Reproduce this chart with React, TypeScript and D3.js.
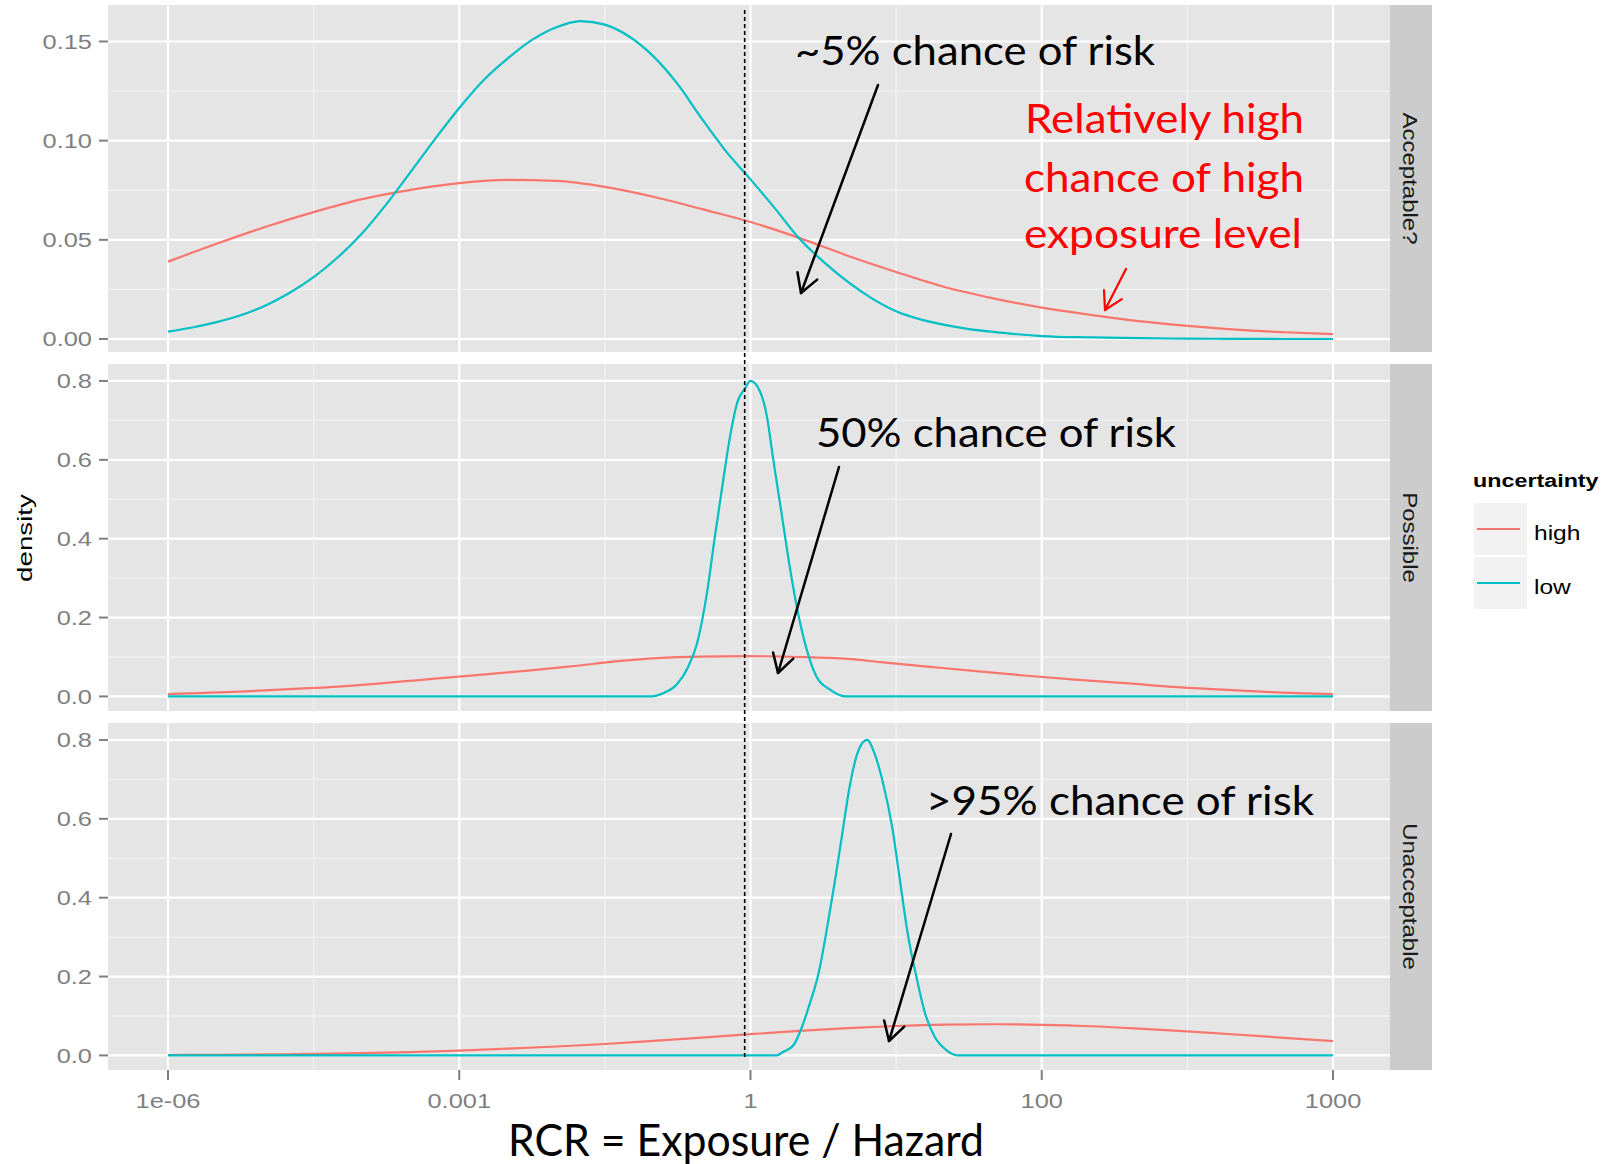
import React from 'react';
import * as d3 from 'd3';

const W = 1613;
const H = 1164;

// ---- categories / labels ----
const facets = ['Acceptable?', 'Possible', 'Unacceptable'];
const seriesNames = ['high', 'low'];
const seriesColors = ['#F8766D', '#00BFC4'];

const xTickPos = [-6, -3, 0, 3, 6];
const xTickLabels = ['1e-06', '0.001', '1', '100', '1000'];
const xMinorPos = [-4.5, -1.5, 1.5, 4.5];

const yTicksAcceptable = [0, 0.05, 0.1, 0.15];
const yTickLabelsAcceptable = ['0.00', '0.05', '0.10', '0.15'];
const yMinorAcceptable = [0.025, 0.075, 0.125];
const yTicksOther = [0, 0.2, 0.4, 0.6, 0.8];
const yTickLabelsOther = ['0.0', '0.2', '0.4', '0.6', '0.8'];
const yMinorOther = [0.1, 0.3, 0.5, 0.7];

// ---- series values (x in axis units, tick -6..6) ----
const uWide = [-6, -5.5, -5, -4.5, -4, -3.5, -3, -2.5, -2, -1.5, -1, -0.5, 0, 0.5, 1, 1.5, 2, 2.5, 3, 3.5, 4, 4.5, 5, 5.5, 6];

const acceptableHigh = [0.039, 0.048, 0.0565, 0.064, 0.0705, 0.0752, 0.0786, 0.0802, 0.0797, 0.0767, 0.0717, 0.0655, 0.059, 0.051, 0.042, 0.0338, 0.0262, 0.0205, 0.0158, 0.0122, 0.009, 0.0066, 0.0047, 0.0034, 0.0025];

const uAcceptableLow = [-6, -5.75, -5.5, -5.25, -5, -4.75, -4.5, -4.25, -4, -3.75, -3.5, -3.25, -3, -2.75, -2.5, -2.25, -2, -1.75, -1.5, -1.25, -1, -0.75, -0.5, -0.25, 0, 0.25, 0.5, 0.75, 1, 1.25, 1.5, 1.75, 2, 2.25, 2.5, 2.75, 3, 3.5, 4, 4.5, 5, 5.5, 6];
const acceptableLow = [0.0037, 0.0058, 0.0085, 0.012, 0.0168, 0.0232, 0.0312, 0.0412, 0.0533, 0.068, 0.0843, 0.1008, 0.1165, 0.1305, 0.1415, 0.1508, 0.1572, 0.1603, 0.1585, 0.1525, 0.1425, 0.1285, 0.111, 0.0945, 0.0805, 0.066, 0.0508, 0.039, 0.0289, 0.0205, 0.014, 0.0099, 0.0071, 0.005, 0.0036, 0.0024, 0.0015, 0.0008, 0.0004, 0.0002, 0.0001, 0, 0];

const uPossibleHigh = [-6, -5.26, -4.71, -4.24, -3.9, -3.31, -2.82, -2.32, -1.85, -1.34, -0.97, -0.51, 0, 0.5, 1.0, 1.34, 1.85, 2.32, 2.82, 3.31, 3.9, 4.24, 4.71, 5.26, 6];
const possibleHigh = [0.006, 0.012, 0.019, 0.025, 0.031, 0.044, 0.054, 0.065, 0.076, 0.09, 0.097, 0.101, 0.102, 0.1, 0.095, 0.087, 0.075, 0.064, 0.053, 0.043, 0.033, 0.026, 0.019, 0.012, 0.006];

const uPossibleLow = [-6, -1.02, -0.9, -0.76, -0.64, -0.55, -0.45, -0.37, -0.28, -0.21, -0.13, -0.06, 0, 0.1, 0.17, 0.23, 0.32, 0.41, 0.49, 0.58, 0.68, 0.82, 0.97, 6];
const possibleLow = [0, 0, 0.008, 0.03, 0.076, 0.135, 0.26, 0.4, 0.55, 0.66, 0.75, 0.78, 0.8, 0.772, 0.709, 0.608, 0.464, 0.32, 0.211, 0.118, 0.05, 0.017, 0, 0];

const unacceptableHigh = [0.001, 0.0015, 0.0024, 0.0037, 0.0058, 0.0085, 0.012, 0.017, 0.0226, 0.029, 0.037, 0.045, 0.054, 0.062, 0.069, 0.0746, 0.078, 0.079, 0.0776, 0.074, 0.068, 0.061, 0.053, 0.0446, 0.0363];

const uUnacceptableLow = [-6, 0.27, 0.33, 0.44, 0.53, 0.61, 0.7, 0.79, 0.87, 0.95, 1.02, 1.11, 1.2, 1.28, 1.36, 1.46, 1.54, 1.62, 1.71, 1.8, 1.9, 2.02, 2.14, 6];
const unacceptableLow = [0, 0, 0.008, 0.025, 0.072, 0.131, 0.207, 0.325, 0.443, 0.57, 0.68, 0.772, 0.8, 0.764, 0.696, 0.578, 0.443, 0.308, 0.198, 0.105, 0.046, 0.013, 0, 0];

const thresholdU = -0.06;

// ---- layout ----
const panelLeft = 108;
const panelRight = 1390;
const panelTops = [5, 364, 723];
const panelH = 347;
const stripW = 42;
const yDomains: [number, number][] = [[-0.00655, 0.1684], [-0.037, 0.843], [-0.037, 0.843]];

const x = d3.scaleLinear().domain([-6, 6]).range([168, 1333]);

const GG_FONT = "'Liberation Sans', Arial, Helvetica, sans-serif";
const NOTE_FONT = "Lato, 'Open Sans', sans-serif";

function GT(props: any) {
  const { x: tx, y: ty, size, sx = 1.27, anchor = 'start', rotate = 0, fill = '#1A1A1A', weight = 'normal', children } = props;
  return (
    <text
      transform={`translate(${tx},${ty}) rotate(${rotate}) scale(${sx},1)`}
      fontFamily={GG_FONT}
      fontSize={size}
      textAnchor={anchor}
      fill={fill}
      fontWeight={weight}
    >
      {children}
    </text>
  );
}

function Arrow(props: any) {
  const { x1, y1, x2, y2, color, width = 2.5, head = 21, ang = 30 } = props;
  const a = Math.atan2(y1 - y2, x1 - x2);
  const r = (ang * Math.PI) / 180;
  const w1 = [x2 + head * Math.cos(a + r), y2 + head * Math.sin(a + r)];
  const w2 = [x2 + head * Math.cos(a - r), y2 + head * Math.sin(a - r)];
  return (
    <g stroke={color} strokeWidth={width} fill="none" strokeLinecap="round" strokeLinejoin="round">
      <line x1={x1} y1={y1} x2={x2} y2={y2} />
      <polyline points={`${w1[0]},${w1[1]} ${x2},${y2} ${w2[0]},${w2[1]}`} />
    </g>
  );
}

type Series = { u: number[]; v: number[] };

const panelData: Series[][] = [
  [{ u: uWide, v: acceptableHigh }, { u: uAcceptableLow, v: acceptableLow }],
  [{ u: uPossibleHigh, v: possibleHigh }, { u: uPossibleLow, v: possibleLow }],
  [{ u: uWide, v: unacceptableHigh }, { u: uUnacceptableLow, v: unacceptableLow }],
];

export default function App() {
  return (
    <svg
      width={W}
      height={H}
      viewBox={`0 0 ${W} ${H}`}
      style={{ position: 'absolute', left: 0, top: 0, background: '#fff' }}
    >
      <rect x={0} y={0} width={W} height={H} fill="#fff" />
      {facets.map((f, i) => {
        const top = panelTops[i];
        const y = d3.scaleLinear().domain(yDomains[i]).range([top + panelH, top]);
        const majors = i === 0 ? yTicksAcceptable : yTicksOther;
        const labels = i === 0 ? yTickLabelsAcceptable : yTickLabelsOther;
        const minors = i === 0 ? yMinorAcceptable : yMinorOther;
        return (
          <g key={f}>
            <rect x={panelLeft} y={top} width={panelRight - panelLeft} height={panelH} fill="#E5E5E5" />
            {minors.map((m) => (
              <line key={'ym' + m} x1={panelLeft} x2={panelRight} y1={y(m)} y2={y(m)} stroke="#F2F2F2" strokeWidth={1.3} />
            ))}
            {xMinorPos.map((m) => (
              <line key={'xm' + m} x1={x(m)} x2={x(m)} y1={top} y2={top + panelH} stroke="#F2F2F2" strokeWidth={1.3} />
            ))}
            {majors.map((m) => (
              <line key={'yM' + m} x1={panelLeft} x2={panelRight} y1={y(m)} y2={y(m)} stroke="#FFFFFF" strokeWidth={2.2} />
            ))}
            {xTickPos.map((m) => (
              <line key={'xM' + m} x1={x(m)} x2={x(m)} y1={top} y2={top + panelH} stroke="#FFFFFF" strokeWidth={2.2} />
            ))}
            {panelData[i].map((s, si) => {
              const path = d3
                .line<number>()
                .x((_, k) => x(s.u[k]))
                .y((d) => y(d))
                .curve(d3.curveMonotoneX)(s.v);
              return <path key={si} d={path || ''} fill="none" stroke={seriesColors[si]} strokeWidth={2.2} />;
            })}
            {/* y ticks */}
            {majors.map((m, k) => (
              <g key={'yt' + m}>
                <line x1={99} x2={108} y1={y(m)} y2={y(m)} stroke="#7F7F7F" strokeWidth={2} />
                <GT x={92} y={y(m) + 7.2} size={20} anchor="end" fill="#7F7F7F">
                  {labels[k]}
                </GT>
              </g>
            ))}
            {/* strip */}
            <rect x={panelRight} y={top} width={stripW} height={panelH} fill="#CCCCCC" />
            <GT x={1403} y={top + panelH / 2} size={19.5} sx={1.23} rotate={90} anchor="middle" fill="#1A1A1A">
              {f}
            </GT>
          </g>
        );
      })}

      {/* x axis ticks */}
      {xTickPos.map((m, k) => (
        <g key={'xt' + m}>
          <line x1={x(m)} x2={x(m)} y1={1070} y2={1080} stroke="#7F7F7F" strokeWidth={2} />
          <GT x={x(m)} y={1108} size={20} anchor="middle" fill="#7F7F7F">
            {xTickLabels[k]}
          </GT>
        </g>
      ))}

      {/* y axis title */}
      <GT x={31.5} y={538} size={21} sx={1.32} rotate={-90} anchor="middle" fill="#000">
        density
      </GT>

      {/* legend */}
      <GT x={1473} y={487} size={18.5} sx={1.26} weight="bold" fill="#000">
        uncertainty
      </GT>
      {seriesNames.map((n, k) => {
        const ky = 503 + k * 54;
        return (
          <g key={n}>
            <rect x={1474} y={ky} width={53} height={52} fill="#F2F2F2" />
            <line x1={1477} x2={1520} y1={ky + 26} y2={ky + 26} stroke={seriesColors[k]} strokeWidth={2.2} />
            <GT x={1534} y={ky + 37} size={19.5} sx={1.26} fill="#000">
              {n}
            </GT>
          </g>
        );
      })}

      {/* threshold dashed line */}
      <line x1={x(thresholdU)} x2={x(thresholdU)} y1={10} y2={1060} stroke="#000" strokeWidth={1.6} strokeDasharray="4,3" />

      {/* annotations */}
      <text x={795} y={65} fontFamily={NOTE_FONT} fontSize={40} fill="#000" textLength={360} lengthAdjust="spacingAndGlyphs">
        ~5% chance of risk
      </text>
      <text x={1025} y={133} fontFamily={NOTE_FONT} fontSize={40} fill="#FF0000" textLength={279} lengthAdjust="spacingAndGlyphs">
        Relatively high
      </text>
      <text x={1024} y={192} fontFamily={NOTE_FONT} fontSize={40} fill="#FF0000" textLength={280} lengthAdjust="spacingAndGlyphs">
        chance of high
      </text>
      <text x={1024} y={248} fontFamily={NOTE_FONT} fontSize={40} fill="#FF0000" textLength={278} lengthAdjust="spacingAndGlyphs">
        exposure level
      </text>
      <text x={816} y={447} fontFamily={NOTE_FONT} fontSize={40} fill="#000" textLength={360} lengthAdjust="spacingAndGlyphs">
        50% chance of risk
      </text>
      <text x={926} y={815} fontFamily={NOTE_FONT} fontSize={40} fill="#000" textLength={388} lengthAdjust="spacingAndGlyphs">
        &gt;95% chance of risk
      </text>
      <text x={508} y={1156} fontFamily={NOTE_FONT} fontSize={44} fill="#000" textLength={476} lengthAdjust="spacingAndGlyphs">
        RCR = Exposure / Hazard
      </text>

      <Arrow x1={878} y1={85} x2={801} y2={293} color="#000" width={2.5} />
      <Arrow x1={1126} y1={269} x2={1105} y2={310} color="#FF0000" width={2.2} head={20} />
      <Arrow x1={839} y1={467} x2={778} y2={673} color="#000" width={2.5} />
      <Arrow x1={951} y1={834} x2={889} y2={1041} color="#000" width={2.5} />
    </svg>
  );
}
